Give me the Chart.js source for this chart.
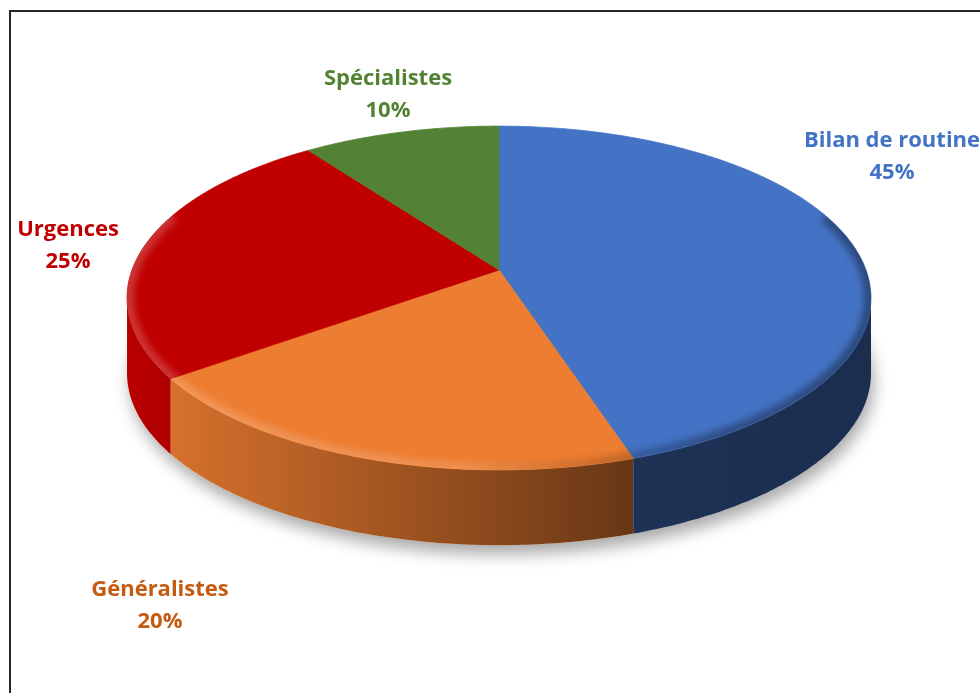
<!DOCTYPE html>
<html lang="fr">
<head>
<meta charset="utf-8">
<title>Répartition des consultations</title>
<script src="https://cdn.jsdelivr.net/npm/chart.js@4.4.1/dist/chart.umd.min.js"></script>
<style>
  html, body { margin: 0; padding: 0; background: #fff; overflow: hidden; }
  #frame { position: absolute; left: 9px; top: 10px; width: 1000px; height: 720px; border: 2px solid #262626; }
  #pie { position: absolute; left: 0; top: 0; }
</style>
</head>
<body>
<div id="frame"></div>
<canvas id="pie" width="980" height="693"></canvas>
<script>
const categories = ['Bilan de routine', 'Généralistes', 'Urgences', 'Spécialistes'];
const shares = [45, 20, 25, 10];
const sliceColors = ['#4472C4', '#ED7D31', '#C00000', '#548235'];
const labelColors = ['#4472C4', '#C55A11', '#C00000', '#548235'];
// first-line baseline of each label (centre x, y)
const labelAnchors = [[892, 147], [160, 596], [68, 236], [388, 85]];

// tilted disc: vertical squash, perspective strength, wall height (x radius)
const TILT = { sy: 0.456, k: 0.163, depth: 0.205 };

function project(arc, theta) {
    const u = Math.cos(theta), v = Math.sin(theta);
    const w = 1 - TILT.k * v;
    const R = arc.outerRadius;
    return [arc.x + R * u / w, arc.y + R * TILT.sy * v / w];
}

function rimPoints(arc, a, b) {
    const n = Math.max(2, Math.ceil(Math.abs(b - a) / (Math.PI / 240)));
    const pts = [];
    for (let i = 0; i <= n; i++) pts.push(project(arc, a + (b - a) * i / n));
    return pts;
}

function tracePath(ctx, pts, dy = 0) {
    ctx.beginPath();
    pts.forEach(([x, y], i) => i ? ctx.lineTo(x, y + dy) : ctx.moveTo(x, y + dy));
    ctx.closePath();
}

const pie3d = {
    id: 'pie3d',
    beforeDatasetsDraw(chart) {
        const ctx = chart.ctx;
        const arcs = chart.getDatasetMeta(0).data;
        const ref = arcs[0];
        const R = ref.outerRadius;
        const depth = R * TILT.depth;
        const outline = rimPoints(ref, 0, Math.PI * 2);

        // soft drop shadow under the base
        ctx.save();
        ctx.shadowColor = 'rgba(0,0,0,0.34)';
        ctx.shadowBlur = 16;
        ctx.shadowOffsetX = 3;
        ctx.shadowOffsetY = 9;
        tracePath(ctx, outline, depth);
        ctx.fillStyle = '#fff';
        ctx.fill();
        ctx.restore();

        // side walls, only the front part is visible
        const vis0 = Math.asin(TILT.k), vis1 = Math.PI - vis0;
        const shade = ctx.createLinearGradient(ref.x - R, 0, ref.x + R, 0);
        shade.addColorStop(0, 'rgba(0,0,0,0.04)');
        shade.addColorStop(0.07, 'rgba(0,0,0,0.11)');
        shade.addColorStop(0.68, 'rgba(0,0,0,0.56)');
        shade.addColorStop(1, 'rgba(0,0,0,0.6)');
        arcs.forEach(arc => {
            [-2 * Math.PI, 0, 2 * Math.PI].forEach(shift => {
                const a = Math.max(arc.startAngle + shift, vis0);
                const b = Math.min(arc.endAngle + shift, vis1);
                if (b <= a) return;
                const top = rimPoints(arc, a, b);
                const wall = top.concat(top.slice().reverse().map(([x, y]) => [x, y + depth]));
                tracePath(ctx, wall);
                ctx.fillStyle = arc.options.backgroundColor;
                ctx.fill();
                ctx.fillStyle = shade;
                ctx.fill();
            });
        });

        // top faces
        arcs.forEach(arc => {
            const pts = [[arc.x, arc.y]].concat(rimPoints(arc, arc.startAngle, arc.endAngle));
            tracePath(ctx, pts);
            ctx.fillStyle = arc.options.backgroundColor;
            ctx.fill();
            ctx.strokeStyle = arc.options.backgroundColor;
            ctx.lineWidth = 0.8;
            ctx.stroke();
        });

        // bevel along the front rim: light on the left, dark on the right
        ctx.save();
        tracePath(ctx, outline);
        ctx.clip();
        const bevel = ctx.createLinearGradient(ref.x - R, 0, ref.x + R, 0);
        bevel.addColorStop(0, 'rgba(255,255,255,0.2)');
        bevel.addColorStop(0.45, 'rgba(255,255,255,0.14)');
        bevel.addColorStop(0.62, 'rgba(0,0,0,0.12)');
        bevel.addColorStop(0.8, 'rgba(0,0,0,0.3)');
        bevel.addColorStop(1, 'rgba(0,0,0,0.35)');
        ctx.filter = 'blur(3px)';
        const front = rimPoints(ref, -0.35, Math.PI + 0.35);
        ctx.beginPath();
        front.forEach(([x, y], i) => i ? ctx.lineTo(x, y) : ctx.moveTo(x, y));
        ctx.lineWidth = 14;
        ctx.strokeStyle = bevel;
        ctx.stroke();
        ctx.restore();

        return false;
    }
};

const sliceLabels = {
    id: 'sliceLabels',
    afterDraw(chart) {
        const ctx = chart.ctx;
        const total = shares.reduce((s, v) => s + v, 0);
        ctx.save();
        ctx.font = 'bold 22px "Open Sans", Lato, sans-serif';
        ctx.textAlign = 'center';
        ctx.textBaseline = 'alphabetic';
        categories.forEach((name, i) => {
            const [x, y] = labelAnchors[i];
            ctx.fillStyle = labelColors[i];
            ctx.fillText(name, x, y);
            ctx.fillText(Math.round(shares[i] / total * 100) + '%', x, y + 32);
        });
        ctx.restore();
    }
};

new Chart(document.getElementById('pie'), {
    type: 'pie',
    data: {
        labels: categories,
        datasets: [{ data: shares, backgroundColor: sliceColors, borderWidth: 0 }]
    },
    options: {
        responsive: false,
        animation: false,
        devicePixelRatio: 1,
        radius: 367,
        layout: { padding: { left: 18, right: 0, top: 0, bottom: 153 } },
        plugins: { legend: { display: false }, tooltip: { enabled: false } }
    },
    plugins: [pie3d, sliceLabels]
});
</script>
</body>
</html>
